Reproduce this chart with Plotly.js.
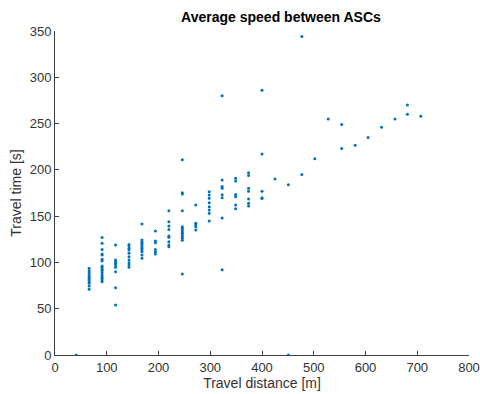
<!DOCTYPE html>
<html><head><meta charset="utf-8">
<script src="https://cdn.plot.ly/plotly-3.0.1.min.js"></script>
<style>html,body{margin:0;padding:0;background:#fff}#c{width:480px;height:394px}</style>
</head><body><div id="c"></div>
<script>
// Travel distance [m] and travel time [s], one entry per observed trip
const distance = [
  41,
  66,66,66,66,66,66,66,66,66,66,66,
  91,91,91,91,91,91,91,91,91,91,91,91,91,91,91,91,91,
  117,117,117,117,117,117,117,117,117,
  143,143,143,143,143,143,143,143,143,143,
  168,168,168,168,168,168,168,168,168,168,168,
  194,194,194,194,194,194,
  220,220,220,220,220,220,220,220,220,
  246,246,246,246,246,246,246,246,246,246,246,246,246,246,
  272,272,272,272,272,
  298,298,298,298,298,298,298,298,
  323,323,323,323,323,323,323,323,
  349,349,349,349,349,349,
  374,374,374,374,374,374,374,
  400,400,400,400,400,
  425,
  451,451,
  477,477,
  502,
  528,
  554,554,
  580,
  605,
  631,
  657,
  681,681,
  707
];
const travelTime = [
  0,
  93.6,91,88.9,86.4,84.6,82.8,81,79.2,77.4,74.5,70.9,
  127,120.6,114.1,109,108,103.3,101.5,96.1,94.7,92.5,91,88.9,86.4,84.6,82.8,81,79.2,
  118.8,102.6,100.8,99,97.2,94.7,90,72.7,54,
  119.5,117.7,115.2,113.4,109.8,106.2,102.6,99.7,97.2,94.7,
  141.5,124.2,122.4,120.6,118.8,117,115.2,113.4,111.6,108,104.4,
  133.9,123.1,121.3,114.1,111.6,109,
  155.8,144,139.3,135.7,128.5,127.1,122.4,118.8,117,
  211,175.3,173.9,155.8,138.6,136.8,135,133.2,131.4,129.6,127.8,126,124,87.5,
  162,142.2,140.4,138.6,135,
  176.4,172.8,169.2,164.5,160.2,156.6,153,144.7,
  280,189,182,180,173,170,148,92,
  191,188,173.5,171,162,158,
  197,194,180,177,168.5,164,161,
  286,217,177,170,169,
  190,
  184,0,
  195,344,
  212,
  255,
  249,223,
  226.5,
  235,
  246,
  255,
  270,260,
  258
];
const xTicks = [0,100,200,300,400,500,600,700,800];
const yTicks = [0,50,100,150,200,250,300,350];

const axisColor = '#404040';
const font = 'Liberation Sans, Arial, Helvetica, sans-serif';

Plotly.newPlot('c', [{
  x: distance, y: travelTime, type: 'scatter', mode: 'markers',
  marker: {color: '#0072BD', size: 3, symbol: 'circle'},
  hoverinfo: 'none'
}], {
  width: 480, height: 394,
  margin: {l: 55, r: 11, t: 31, b: 39},
  paper_bgcolor: '#fff', plot_bgcolor: '#fff',
  showlegend: false,
  font: {family: font, color: axisColor},
  title: {text: '<b>Average speed between ASCs</b>', font: {size: 14, color: '#000', family: font},
          x: 262/480, xanchor: 'center', xref: 'paper', y: 1 - 17/394, yanchor: 'middle', yref: 'container'},
  xaxis: {
    range: [0, 800], tickvals: xTicks, ticktext: xTicks.map(String),
    ticks: 'inside', ticklen: 4, tickcolor: axisColor, tickwidth: 1,
    showline: true, linecolor: axisColor, linewidth: 1, mirror: false,
    showgrid: false, zeroline: false,
    tickfont: {size: 13, color: '#333'},
    title: {text: 'Travel distance [m]', font: {size: 14, color: '#333'}, standoff: 0}
  },
  yaxis: {
    range: [0, 350], tickvals: yTicks, ticktext: yTicks.map(String),
    ticks: 'inside', ticklen: 4, tickcolor: axisColor, tickwidth: 1,
    showline: true, linecolor: axisColor, linewidth: 1, mirror: false,
    showgrid: false, zeroline: false,
    tickfont: {size: 13, color: '#333'},
    title: {text: 'Travel time [s]', font: {size: 14, color: '#333'}, standoff: 4}
  }
}, {staticPlot: true, displayModeBar: false});
</script>
</body></html>
